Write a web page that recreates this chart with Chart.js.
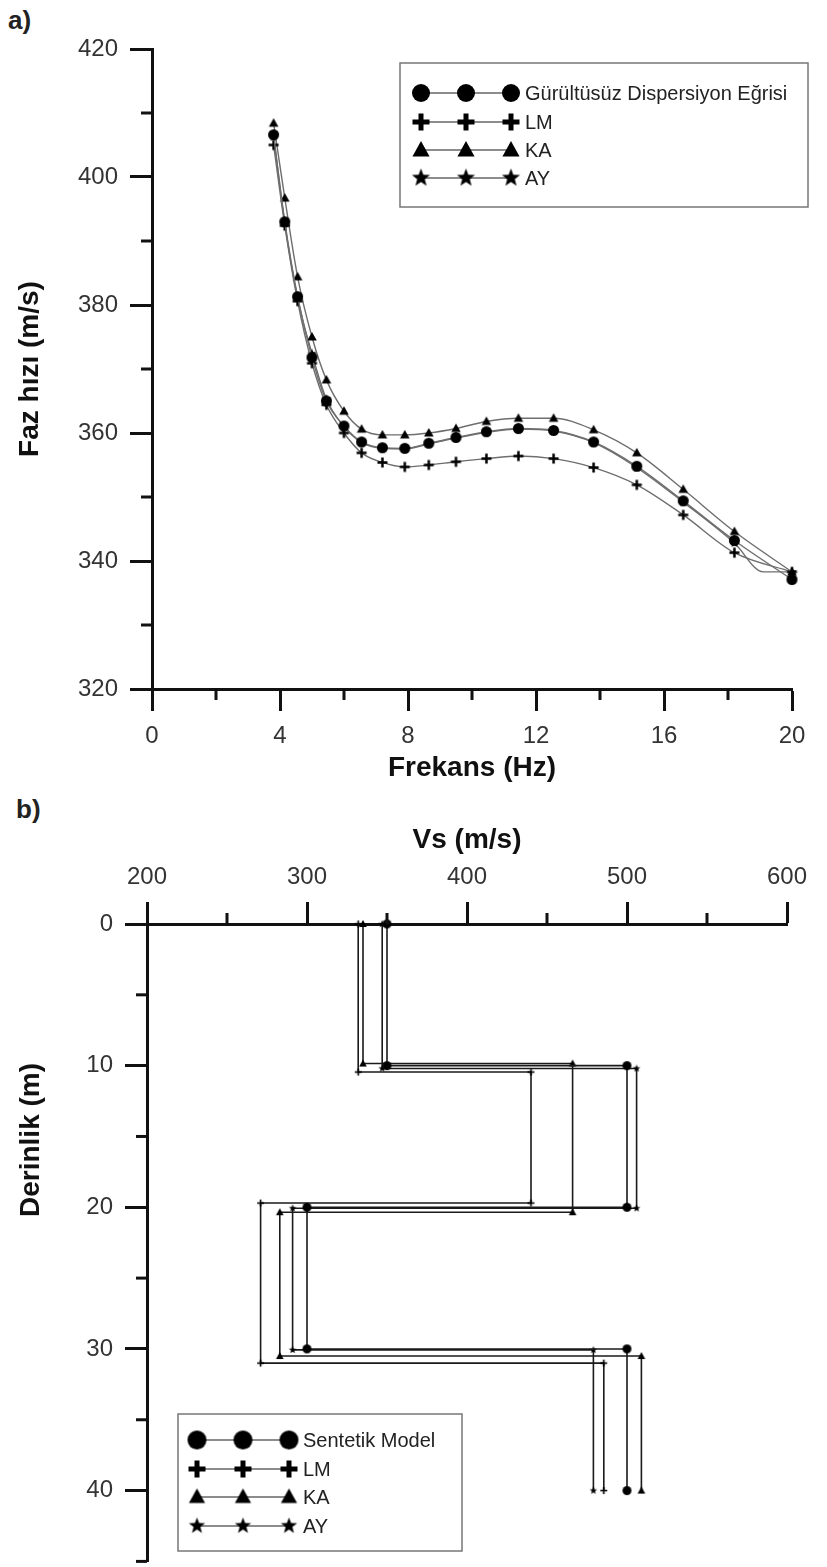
<!DOCTYPE html>
<html>
<head>
<meta charset="utf-8">
<script src="https://cdn.jsdelivr.net/npm/chart.js@4.4.0/dist/chart.umd.min.js"></script>
<style>
  body { margin: 0; background: #fff; width: 827px; height: 1567px; position: relative; overflow: hidden;
         font-family: "Liberation Sans", Arial, sans-serif; }
  .panel { position: absolute; font-weight: bold; font-size: 26px; line-height: 1; color: #222; }
  .ytitle { position: absolute; font-weight: bold; font-size: 28px; line-height: 1; color: #111;
            white-space: nowrap; transform: translate(-50%, -50%) rotate(-90deg); }
  #chartA { position: absolute; left: 0; top: 0; }
  #chartB { position: absolute; left: 0; top: 790px; }
</style>
</head>
<body>
<div class="panel" style="left:8px; top:7px;">a)</div>
<div class="panel" style="left:16px; top:796px;">b)</div>
<canvas id="chartA" width="827" height="790"></canvas>
<canvas id="chartB" width="827" height="777"></canvas>
<div class="ytitle" style="left:30px; top:1140px;">Derinlik (m)</div>
<script>
// ---- a) dispersion curves ----
const freq = [3.8, 4.15, 4.55, 5.0, 5.45, 6.0, 6.55, 7.2, 7.9, 8.65, 9.5, 10.45, 11.45, 12.55, 13.8, 15.15, 16.6, 18.2, 20.0];
const gurultusuz = [406.6, 393.0, 381.3, 371.8, 365.0, 361.1, 358.6, 357.7, 357.6, 358.4, 359.3, 360.2, 360.7, 360.4, 358.6, 354.8, 349.4, 343.2, 337.1];
const lmPhase = [405.0, 392.4, 380.6, 370.9, 364.4, 360.0, 356.9, 355.4, 354.7, 355.0, 355.5, 356.0, 356.4, 356.0, 354.6, 351.9, 347.2, 341.3, 338.3];
const kaPhase = [408.4, 396.7, 384.4, 375.0, 368.3, 363.4, 360.6, 359.7, 359.7, 360.0, 360.7, 361.8, 362.3, 362.3, 360.5, 356.9, 351.2, 344.6, 338.3];
const ayFreq = [3.8, 4.15, 4.55, 5.0, 5.45, 6.0, 6.55, 7.2, 7.9, 8.65, 9.5, 10.45, 11.45, 12.55, 13.8, 15.15, 16.6, 18.2, 19.1, 20.0];
const ayPhase = [406.3, 392.8, 381.1, 372.4, 365.3, 361.0, 358.5, 357.6, 357.5, 358.3, 359.2, 360.1, 360.6, 360.3, 358.5, 354.6, 349.2, 342.8, 338.3, 338.3];

const xTicksA = [0, 4, 8, 12, 16, 20];
const xMinorA = [2, 6, 10, 14, 18];
const yTicksA = [320, 340, 360, 380, 400, 420];
const yMinorA = [330, 350, 370, 390, 410];

// ---- b) Vs profiles ----
const sentetikVs = [350, 350, 500, 500, 300, 300, 500, 500];
const sentetikDepth = [0, 10, 10, 20, 20, 30, 30, 40];
const lmVs = [332, 332, 440, 440, 271, 271, 485.5, 485.5];
const lmDepth = [0, 10.45, 10.45, 19.7, 19.7, 31.0, 31.0, 40];
const kaVs = [335, 335, 466, 466, 283, 283, 509, 509];
const kaDepth = [0, 9.85, 9.85, 20.35, 20.35, 30.5, 30.5, 40];
const ayVs = [347, 347, 506, 506, 291, 291, 479, 479];
const ayDepth = [0, 10.2, 10.2, 20.07, 20.07, 30.07, 30.07, 40];

const xTicksB = [200, 300, 400, 500, 600];
const xMinorB = [250, 350, 450, 550];
const yTicksB = [0, 10, 20, 30, 40];
const yMinorB = [5, 15, 25, 35, 45];

Chart.defaults.font.family = '"Liberation Sans", Arial, sans-serif';
Chart.defaults.color = '#333';

function makeMarker(shape, r, lw) {
    const size = Math.ceil(r * 2 + (lw || 0) + 2);
    const c = document.createElement('canvas');
    c.width = c.height = size;
    const g = c.getContext('2d');
    g.translate(size / 2, size / 2);
    g.fillStyle = '#000';
    g.strokeStyle = '#000';
    g.beginPath();
    if (shape === 'circle') {
        g.arc(0, 0, r, 0, 2 * Math.PI);
        g.fill();
    } else if (shape === 'triangle') {
        g.moveTo(0, -r);
        g.lineTo(r * 0.95, r * 0.72);
        g.lineTo(-r * 0.95, r * 0.72);
        g.closePath();
        g.fill();
    } else if (shape === 'cross') {
        g.lineWidth = lw;
        g.moveTo(-r, 0); g.lineTo(r, 0);
        g.moveTo(0, -r); g.lineTo(0, r);
        g.stroke();
    } else if (shape === 'star') {
        for (let i = 0; i < 10; i++) {
            const a = -Math.PI / 2 + i * Math.PI / 5;
            const rr = i % 2 ? r * 0.42 : r;
            g.lineTo(rr * Math.cos(a), rr * Math.sin(a));
        }
        g.closePath();
        g.fill();
    }
    return c;
}

function pts(xs, ys) {
    return xs.map((x, i) => ({x: x, y: ys[i]}));
}

const minorTicks = {
    id: 'minorTicks',
    afterDraw(chart, args, opts) {
        const ctx = chart.ctx;
        ctx.save();
        ctx.strokeStyle = '#111';
        ctx.lineWidth = 3;
        opts.list.forEach(m => {
            const s = chart.scales[m.axis];
            m.values.forEach(v => {
                const p = s.getPixelForValue(v);
                ctx.beginPath();
                if (s.isHorizontal()) {
                    if (s.position === 'top') { ctx.moveTo(p, s.bottom); ctx.lineTo(p, s.bottom - 11); }
                    else { ctx.moveTo(p, s.top); ctx.lineTo(p, s.top + 11); }
                } else {
                    ctx.moveTo(s.right, p); ctx.lineTo(s.right - 11, p);
                }
                ctx.stroke();
            });
        });
        ctx.restore();
    }
};

const boxLegend = {
    id: 'boxLegend',
    afterDraw(chart, args, o) {
        const ctx = chart.ctx;
        ctx.save();
        ctx.fillStyle = '#fff';
        ctx.fillRect(o.x, o.y, o.w, o.h);
        ctx.strokeStyle = '#777';
        ctx.lineWidth = 1.5;
        ctx.strokeRect(o.x, o.y, o.w, o.h);
        o.items.forEach((it, i) => {
            const y = o.rowY[i];
            ctx.strokeStyle = '#666';
            ctx.lineWidth = 1.5;
            ctx.beginPath();
            ctx.moveTo(o.mx, y);
            ctx.lineTo(o.mx + 2 * o.gap, y);
            ctx.stroke();
            for (let k = 0; k < 3; k++) {
                const m = it.marker;
                ctx.drawImage(m, o.mx + k * o.gap - m.width / 2, y - m.height / 2);
            }
            ctx.fillStyle = '#222';
            ctx.font = o.font;
            ctx.textBaseline = 'middle';
            ctx.fillText(it.label, o.mx + 2 * o.gap + 14, y + 1);
        });
        ctx.restore();
    }
};

const axisGrid = {drawOnChartArea: false, drawTicks: true, tickLength: 22, tickWidth: 3, tickColor: '#111'};
const axisBorder = {color: '#111', width: 3};
const titleFont = {size: 28, weight: 'bold'};
const tickFont = {size: 24};

// ----- chart a -----
const lineA = {showLine: true, borderColor: '#6e6e6e', borderWidth: 1.4, cubicInterpolationMode: 'monotone', clip: false};

new Chart(document.getElementById('chartA'), {
    type: 'scatter',
    data: {
        datasets: [
            Object.assign({label: 'Gürültüsüz Dispersiyon Eğrisi', data: pts(freq, gurultusuz), pointStyle: makeMarker('circle', 5.5)}, lineA),
            Object.assign({label: 'LM', data: pts(freq, lmPhase), pointStyle: makeMarker('cross', 5, 2.5)}, lineA),
            Object.assign({label: 'KA', data: pts(freq, kaPhase), pointStyle: makeMarker('triangle', 5)}, lineA),
            Object.assign({label: 'AY', data: pts(ayFreq, ayPhase), pointStyle: makeMarker('star', 5),
                pointRadius: c => c.dataIndex === 18 ? 0 : 3}, lineA)
        ]
    },
    options: {
        responsive: false,
        animation: false,
        layout: {padding: {top: 49, right: 35, left: 0, bottom: 0}},
        plugins: {
            legend: {display: false},
            tooltip: {enabled: false},
            minorTicks: {list: [{axis: 'x', values: xMinorA}, {axis: 'y', values: yMinorA}]},
            boxLegend: {
                x: 400, y: 63, w: 408, h: 144, mx: 421, gap: 45, font: '20px "Liberation Sans", Arial, sans-serif',
                rowY: [93, 122, 150, 178],
                items: [
                    {label: 'Gürültüsüz Dispersiyon Eğrisi', marker: makeMarker('circle', 9)},
                    {label: 'LM', marker: makeMarker('cross', 8.5, 5)},
                    {label: 'KA', marker: makeMarker('triangle', 9)},
                    {label: 'AY', marker: makeMarker('star', 9.5)}
                ]
            }
        },
        scales: {
            x: {
                type: 'linear', min: 0, max: 20,
                afterBuildTicks: s => { s.ticks = xTicksA.map(v => ({value: v})); },
                afterFit: s => { s.height = 101; },
                grid: axisGrid, border: axisBorder,
                ticks: {font: tickFont, padding: 11, maxRotation: 0},
                title: {display: true, text: 'Frekans (Hz)', font: titleFont, color: '#111', padding: {top: 0, bottom: 5}}
            },
            y: {
                min: 320, max: 420,
                afterBuildTicks: s => { s.ticks = yTicksA.map(v => ({value: v})); },
                afterFit: s => { s.width = 152; },
                grid: axisGrid, border: axisBorder,
                ticks: {font: tickFont, padding: 12},
                title: {display: true, text: 'Faz hızı (m/s)', font: titleFont, color: '#111', padding: {top: 13, bottom: 0}}
            }
        }
    },
    plugins: [minorTicks, boxLegend]
});

// ----- chart b -----
const lineB = {showLine: true, borderColor: '#1a1a1a', borderWidth: 1.6, tension: 0, clip: false};

new Chart(document.getElementById('chartB'), {
    type: 'scatter',
    data: {
        datasets: [
            Object.assign({label: 'Sentetik Model', data: pts(sentetikVs, sentetikDepth), pointStyle: makeMarker('circle', 4.5)}, lineB),
            Object.assign({label: 'LM', data: pts(lmVs, lmDepth), pointStyle: makeMarker('cross', 3.5, 1.6)}, lineB),
            Object.assign({label: 'KA', data: pts(kaVs, kaDepth), pointStyle: makeMarker('triangle', 4)}, lineB),
            Object.assign({label: 'AY', data: pts(ayVs, ayDepth), pointStyle: makeMarker('star', 4)}, lineB)
        ]
    },
    options: {
        responsive: false,
        animation: false,
        layout: {padding: {top: 0, right: 40, left: 0, bottom: 3}},
        plugins: {
            legend: {display: false},
            tooltip: {enabled: false},
            minorTicks: {list: [{axis: 'x', values: xMinorB}, {axis: 'y', values: yMinorB}]},
            boxLegend: {
                x: 178, y: 624, w: 284, h: 137, mx: 197, gap: 46, font: '20px "Liberation Sans", Arial, sans-serif',
                rowY: [650, 679, 707, 736],
                items: [
                    {label: 'Sentetik Model', marker: makeMarker('circle', 9.5)},
                    {label: 'LM', marker: makeMarker('cross', 8.5, 5)},
                    {label: 'KA', marker: makeMarker('triangle', 8.5)},
                    {label: 'AY', marker: makeMarker('star', 8.5)}
                ]
            }
        },
        scales: {
            x: {
                type: 'linear', position: 'top', min: 200, max: 600,
                afterBuildTicks: s => { s.ticks = xTicksB.map(v => ({value: v})); },
                afterFit: s => { s.height = 134; },
                grid: axisGrid, border: axisBorder,
                ticks: {font: tickFont, padding: 10, maxRotation: 0},
                title: {display: true, text: 'Vs (m/s)', font: titleFont, color: '#111', padding: {top: 33, bottom: 0}}
            },
            y: {
                reverse: true, min: 0, max: 45,
                afterBuildTicks: s => { s.ticks = yTicksB.map(v => ({value: v})); },
                afterFit: s => { s.width = 147; s.paddingTop = 0; s.paddingBottom = 0; },
                grid: axisGrid, border: axisBorder,
                ticks: {font: tickFont, padding: 12}
            }
        }
    },
    plugins: [minorTicks, boxLegend]
});
</script>
</body>
</html>
